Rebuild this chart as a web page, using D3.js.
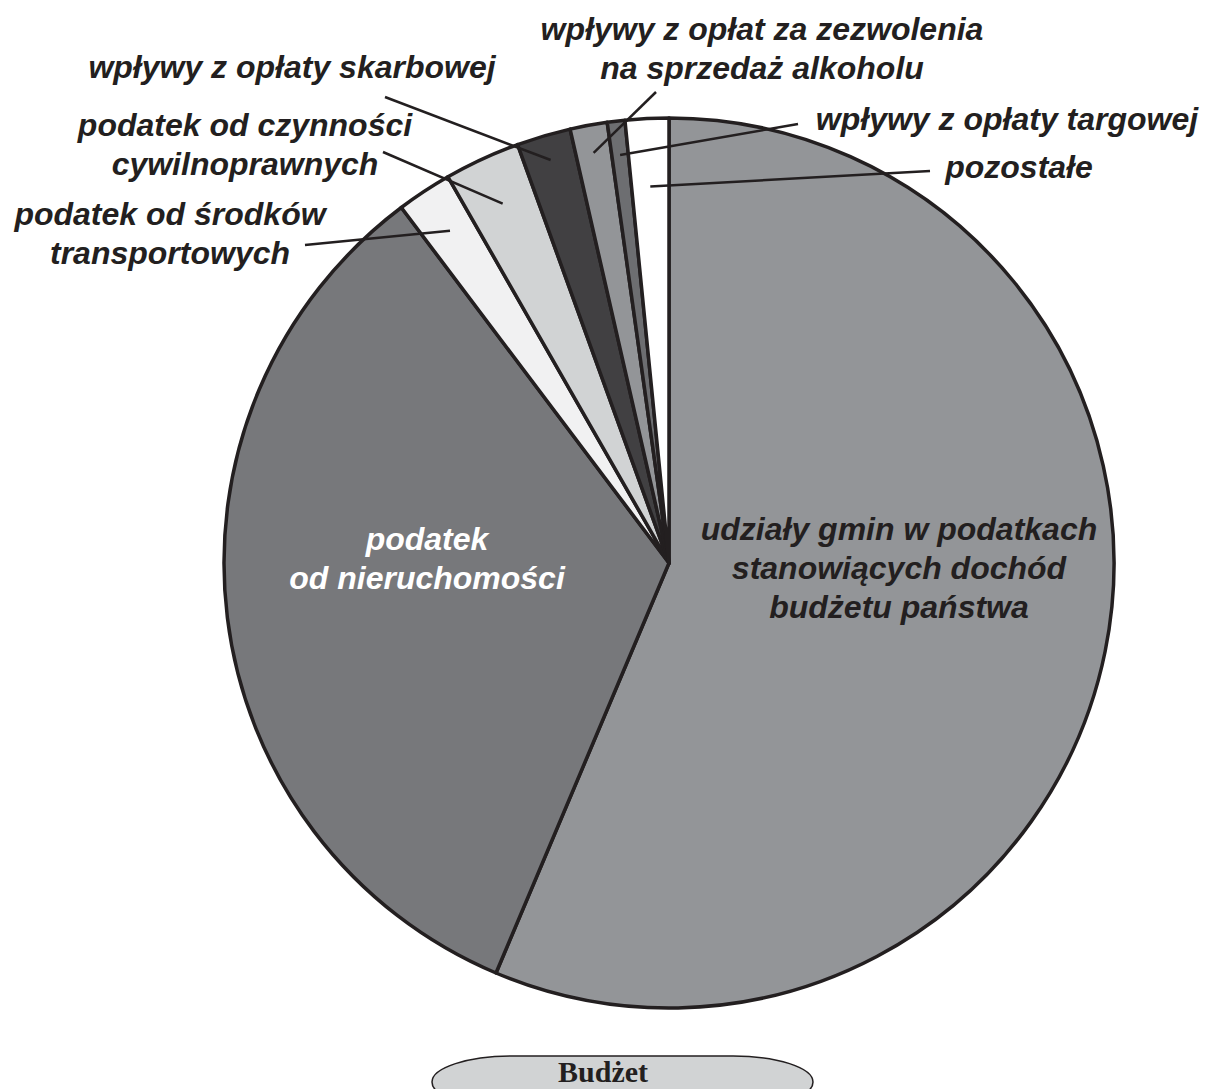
<!DOCTYPE html>
<html>
<head>
<meta charset="utf-8">
<script src="https://cdn.jsdelivr.net/npm/d3@7"></script>
<style>
  body { margin: 0; background: #ffffff; }
  svg { display: block; }
</style>
</head>
<body>
<div id="chart"></div>
<script>
// Slices, clockwise from 12 o'clock (share of total, %)
const categories = [
  "udziały gmin w podatkach stanowiących dochód budżetu państwa",
  "podatek od nieruchomości",
  "podatek od środków transportowych",
  "podatek od czynności cywilnoprawnych",
  "wpływy z opłaty skarbowej",
  "wpływy z opłat za zezwolenia na sprzedaż alkoholu",
  "wpływy z opłaty targowej",
  "pozostałe"
];
const values = [56.4, 33.4, 2.0, 2.75, 1.96, 1.35, 0.64, 1.58];
const colors = ["#939598", "#77787b", "#f1f1f2", "#d1d3d4", "#414042", "#939598", "#6d6e71", "#ffffff"];

// Label lines for each slice
const labelLines = [
  ["udziały gmin w podatkach", "stanowiących dochód", "budżetu państwa"],
  ["podatek", "od nieruchomości"],
  ["podatek od środków", "transportowych"],
  ["podatek od czynności", "cywilnoprawnych"],
  ["wpływy z opłaty skarbowej"],
  ["wpływy z opłat za zezwolenia", "na sprzedaż alkoholu"],
  ["wpływy z opłaty targowej"],
  ["pozostałe"]
];

const W = 1207, H = 1089;
const cx = 669, cy = 563, R = 445;

// label layout: text centre x, first baseline y, text colour, leader start (null = inside)
const labelLayout = [
  { x: 899, y: 540, fill: "#231f20", lead: null },
  { x: 427, y: 550, fill: "#ffffff", lead: null },
  { x: 170, y: 225, fill: "#231f20", lead: [305, 245], r: 398 },
  { x: 245, y: 136, fill: "#231f20", lead: [383, 152], r: 396 },
  { x: 292, y: 78,  fill: "#231f20", lead: [385, 97],  r: 420 },
  { x: 762, y: 40,  fill: "#231f20", lead: [656, 92],  r: 417 },
  { x: 1007, y: 130, fill: "#231f20", lead: [798, 124], r: 411 },
  { x: 1019, y: 178, fill: "#231f20", lead: [930, 171], r: 377 }
];

const svg = d3.select("#chart").append("svg")
  .attr("width", W)
  .attr("height", H);

const pie = d3.pie().sort(null).value(d => d)(values);
const arc = d3.arc().innerRadius(0).outerRadius(R);

const g = svg.append("g").attr("transform", `translate(${cx},${cy})`);

g.selectAll("path.slice")
  .data(pie)
  .enter()
  .append("path")
  .attr("class", "slice")
  .attr("d", arc)
  .attr("fill", (d, i) => colors[i])
  .attr("stroke", "#231f20")
  .attr("stroke-width", 3.5)
  .attr("stroke-linejoin", "round");

// leader lines
pie.forEach((d, i) => {
  const lay = labelLayout[i];
  if (!lay.lead) return;
  const a = (d.startAngle + d.endAngle) / 2;
  const ex = cx + lay.r * Math.sin(a);
  const ey = cy - lay.r * Math.cos(a);
  svg.append("line")
    .attr("x1", lay.lead[0]).attr("y1", lay.lead[1])
    .attr("x2", ex).attr("y2", ey)
    .attr("stroke", "#231f20")
    .attr("stroke-width", 2.5);
});

// labels
labelLines.forEach((lines, i) => {
  const lay = labelLayout[i];
  const t = svg.append("text")
    .attr("text-anchor", "middle")
    .style("font-family", "'Liberation Sans', Arial, sans-serif")
    .style("font-size", "32px")
    .style("font-weight", "bold")
    .style("font-style", "italic")
    .style("fill", lay.fill);
  lines.forEach((s, j) => {
    t.append("tspan")
      .attr("x", lay.x)
      .attr("y", lay.y + j * 39)
      .text(s);
  });
});

// "Budżet" tab at the bottom
svg.append("rect")
  .attr("x", 432)
  .attr("y", 1056)
  .attr("width", 381)
  .attr("height", 52)
  .attr("rx", 80)
  .attr("ry", 26)
  .attr("fill", "#d1d3d4")
  .attr("stroke", "#231f20")
  .attr("stroke-width", 1.5);

svg.append("text")
  .attr("x", 603)
  .attr("y", 1082)
  .attr("text-anchor", "middle")
  .style("font-family", "'Liberation Serif', 'Times New Roman', serif")
  .style("font-size", "30px")
  .style("font-weight", "bold")
  .style("fill", "#231f20")
  .text("Budżet");
</script>
</body>
</html>
